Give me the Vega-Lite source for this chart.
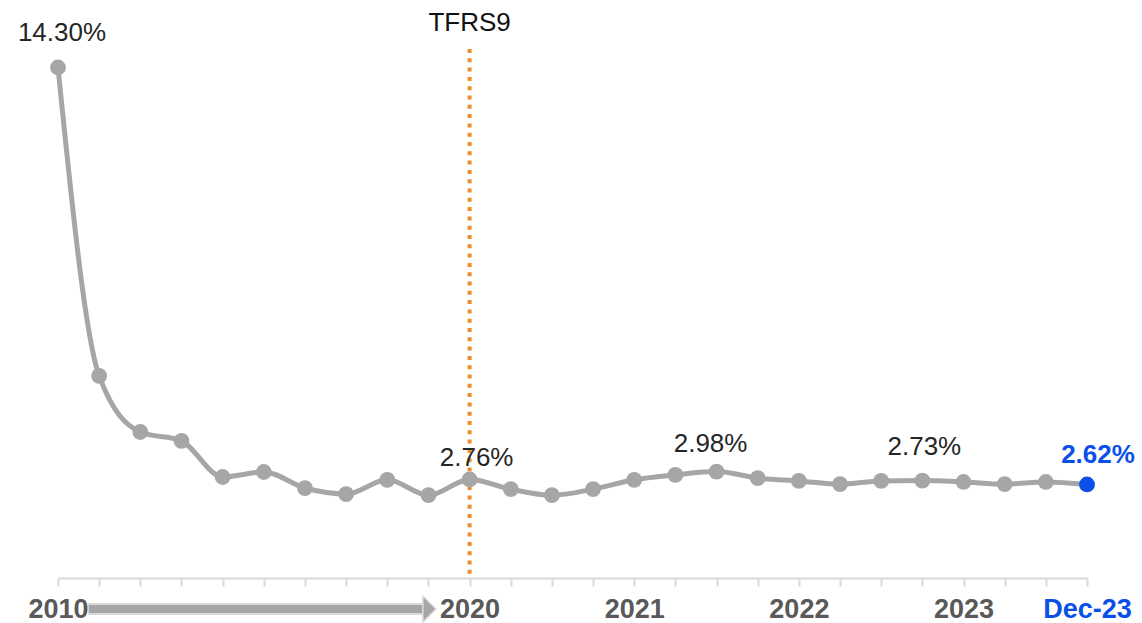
{
  "$schema": "https://vega.github.io/schema/vega-lite/v6.json",
  "width": 1029,
  "height": 529,
  "autosize": {"type": "none"},
  "padding": {"left": 58, "right": 55, "top": 49, "bottom": 45},
  "config": {"view": {"stroke": null}, "font": "Liberation Sans"},
  "data": {
    "values": [
      {"period": "2010", "npl": 14.30},
      {"period": "2011", "npl": 5.66},
      {"period": "2012", "npl": 4.09},
      {"period": "2013", "npl": 3.84},
      {"period": "2014", "npl": 2.83},
      {"period": "2015", "npl": 2.97},
      {"period": "2016", "npl": 2.52},
      {"period": "2017", "npl": 2.35},
      {"period": "2018", "npl": 2.75},
      {"period": "2019", "npl": 2.32},
      {"period": "Mar-20", "npl": 2.76, "event": "TFRS9"},
      {"period": "Jun-20", "npl": 2.49},
      {"period": "Sep-20", "npl": 2.32},
      {"period": "Dec-20", "npl": 2.49},
      {"period": "Mar-21", "npl": 2.75},
      {"period": "Jun-21", "npl": 2.89},
      {"period": "Sep-21", "npl": 2.98},
      {"period": "Dec-21", "npl": 2.80},
      {"period": "Mar-22", "npl": 2.72},
      {"period": "Jun-22", "npl": 2.63},
      {"period": "Sep-22", "npl": 2.72},
      {"period": "Dec-22", "npl": 2.73},
      {"period": "Mar-23", "npl": 2.69},
      {"period": "Jun-23", "npl": 2.63},
      {"period": "Sep-23", "npl": 2.69},
      {"period": "Dec-23", "npl": 2.62}
    ]
  },
  "encoding": {
    "x": {
      "field": "period",
      "type": "ordinal",
      "scale": {
        "type": "point",
        "padding": 0,
        "domain": ["2010","2011","2012","2013","2014","2015","2016","2017","2018","2019","Mar-20","Jun-20","Sep-20","Dec-20","Mar-21","Jun-21","Sep-21","Dec-21","Mar-22","Jun-22","Sep-22","Dec-22","Mar-23","Jun-23","Sep-23","Dec-23"]
      },
      "axis": {
        "title": null,
        "labelAngle": 0,
        "labelOverlap": false,
        "labelBound": false,
        "labelFlush": false,
        "labelExpr": "datum.label == '2010' || datum.label == 'Dec-23' ? datum.label : (slice(datum.label, 0, 3) == 'Mar' ? '20' + slice(datum.label, 4) : '')",
        "labelFont": "Liberation Sans",
        "labelFontSize": 27,
        "labelFontWeight": "bold",
        "labelColor": {"condition": {"test": "datum.label == 'Dec-23'", "value": "#0A50E8"}, "value": "#595959"},
        "labelPadding": 10,
        "domainColor": "#D9D9D9",
        "domainWidth": 2,
        "tickColor": "#D9D9D9",
        "tickWidth": 2,
        "tickSize": 8,
        "grid": false
      }
    },
    "y": {
      "field": "npl",
      "type": "quantitative",
      "scale": {"domain": [0, 14.818], "nice": false, "zero": true},
      "axis": null
    }
  },
  "layer": [
    {
      "transform": [{"filter": "datum.event != null"}],
      "mark": {"type": "rule", "color": "#F28C28", "strokeWidth": 4, "strokeDash": [4, 5.3]},
      "encoding": {"y": null}
    },
    {
      "transform": [{"filter": "datum.event != null"}],
      "mark": {"type": "text", "fontSize": 26, "color": "#111111", "baseline": "middle", "align": "center"},
      "encoding": {"y": {"datum": 15.55}, "text": {"field": "event"}}
    },
    {
      "mark": {"type": "line", "interpolate": "monotone", "color": "#A6A6A6", "strokeWidth": 5}
    },
    {
      "mark": {"type": "circle", "size": 250, "opacity": 1},
      "encoding": {
        "color": {"condition": {"test": "datum.period == 'Dec-23'", "value": "#0A50E8"}, "value": "#A6A6A6"}
      }
    },
    {
      "transform": [
        {"filter": "datum.period == '2010'"},
        {"calculate": "format(datum.npl, '.2f') + '%'", "as": "lbl"}
      ],
      "mark": {"type": "text", "fontSize": 26, "color": "#262626", "baseline": "middle", "align": "center", "dy": -34.5, "dx": 4},
      "encoding": {"text": {"field": "lbl"}}
    },
    {
      "transform": [
        {"filter": "datum.period == 'Mar-20'"},
        {"calculate": "format(datum.npl, '.2f') + '%'", "as": "lbl"}
      ],
      "mark": {"type": "text", "fontSize": 26, "color": "#262626", "baseline": "middle", "align": "center", "dy": -21.5, "dx": 7},
      "encoding": {"text": {"field": "lbl"}}
    },
    {
      "transform": [
        {"filter": "datum.period == 'Sep-21'"},
        {"calculate": "format(datum.npl, '.2f') + '%'", "as": "lbl"}
      ],
      "mark": {"type": "text", "fontSize": 26, "color": "#262626", "baseline": "middle", "align": "center", "dy": -27.5, "dx": -6},
      "encoding": {"text": {"field": "lbl"}}
    },
    {
      "transform": [
        {"filter": "datum.period == 'Dec-22'"},
        {"calculate": "format(datum.npl, '.2f') + '%'", "as": "lbl"}
      ],
      "mark": {"type": "text", "fontSize": 26, "color": "#262626", "baseline": "middle", "align": "center", "dy": -33.5, "dx": 2},
      "encoding": {"text": {"field": "lbl"}}
    },
    {
      "transform": [
        {"filter": "datum.period == 'Dec-23'"},
        {"calculate": "format(datum.npl, '.2f') + '%'", "as": "lbl"}
      ],
      "mark": {"type": "text", "fontSize": 26, "fontWeight": "bold", "color": "#0A50E8", "baseline": "middle", "align": "center", "dy": -29, "dx": 11},
      "encoding": {"text": {"field": "lbl"}}
    },
    {
      "data": {"values": [{"from": "2010", "to": "2019", "level": -0.87}]},
      "mark": {"type": "rule", "color": "#D9D9D9", "strokeWidth": 12, "xOffset": 30, "x2Offset": -6},
      "encoding": {"x": {"field": "from", "type": "ordinal"}, "x2": {"field": "to"}, "y": {"field": "level", "type": "quantitative"}}
    },
    {
      "data": {"values": [{"from": "2010", "to": "2019", "level": -0.87}]},
      "mark": {"type": "rule", "color": "#A6A6A6", "strokeWidth": 8, "xOffset": 31, "x2Offset": -6},
      "encoding": {"x": {"field": "from", "type": "ordinal"}, "x2": {"field": "to"}, "y": {"field": "level", "type": "quantitative"}}
    },
    {
      "data": {"values": [{"from": "2010", "to": "2019", "level": -0.87}]},
      "mark": {"type": "point", "shape": "M-0.5,-1L0.5,0L-0.5,1Z", "size": 676, "filled": true, "fill": "#A6A6A6", "stroke": "#D9D9D9", "strokeWidth": 1.5, "opacity": 1, "xOffset": 1},
      "encoding": {"x": {"field": "to", "type": "ordinal"}, "y": {"field": "level", "type": "quantitative"}}
    }
  ]
}
